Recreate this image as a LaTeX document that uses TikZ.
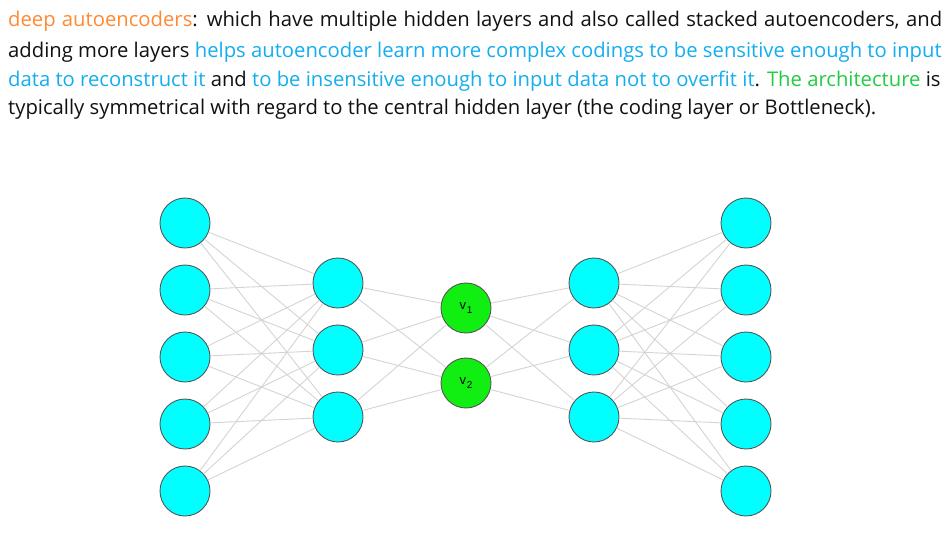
\documentclass[tikz,border=0pt]{standalone}
\usepackage{fontspec}
\setmainfont{Open Sans}
\newfontfamily\labfont{Liberation Sans}
\definecolor{txtorange}{HTML}{FF8A33}
\definecolor{txtblue}{HTML}{14AEEF}
\definecolor{txtgreen}{HTML}{22CC44}
\definecolor{txtblack}{HTML}{111111}
\definecolor{cyanfill}{HTML}{00FFFF}
\definecolor{greenfill}{HTML}{11EE11}
\definecolor{rimgray}{HTML}{555555}
\definecolor{edgegray}{HTML}{D4D4D4}
\newcommand{\vlab}[1]{v\kern0.6pt\raisebox{-4.5pt}{\fontsize{10}{10}\selectfont #1}}
\begin{document}
\begin{tikzpicture}[x=1pt,y=-1pt,
  txtline/.style={anchor=base west,inner sep=0pt,font=\fontsize{20.25}{24}\selectfont,text=txtblack},
  neuron/.style={circle,draw=rimgray,line width=0.9pt,minimum size=50pt,inner sep=0pt,fill=cyanfill},
  codeneuron/.style={neuron,fill=greenfill,font=\labfont\fontsize{13}{13}\selectfont},
  link/.style={draw=edgegray,line width=0.9pt}]
\useasboundingbox (0,0) rectangle (950,536);
\fill[white] (0,0) rectangle (950,536);
\node[txtline] (l1) at (8,26) {\makebox[934pt][s]{\textcolor{txtorange}{deep autoencoders}: which have multiple hidden layers and also called stacked autoencoders, and}};
\node[txtline] (l2) at (8,57) {adding more layers \textcolor{txtblue}{helps autoencoder learn more complex codings to be sensitive enough to input}};
\node[txtline] (l3) at (8,86) {\textcolor{txtblue}{data to reconstruct it} and \textcolor{txtblue}{to be insensitive enough to input data not to overfit it}. \textcolor{txtgreen}{The architecture} is};
\node[txtline] (l4) at (8,114) {typically symmetrical with regard to the central hidden layer (the coding layer or Bottleneck).};
% nodes
\foreach \i/\y in {1/223,2/290,3/357,4/424,5/491}{
  \node[neuron] (a\i) at (185,\y) {};
  \node[neuron] (e\i) at (746,\y) {};
}
\foreach \i/\y in {1/283,2/350,3/417}{
  \node[neuron] (b\i) at (338,\y) {};
  \node[neuron] (d\i) at (594,\y) {};
}
\node[codeneuron] (c1) at (466,308) {\vlab{1}};
\node[codeneuron] (c2) at (466,383) {\vlab{2}};
% edges
\foreach \i in {1,...,5}{\foreach \j in {1,2,3}{\path[link] (a\i) -- (b\j); \path[link] (d\j) -- (e\i);}}
\foreach \i in {1,2,3}{\foreach \j in {1,2}{\path[link] (b\i) -- (c\j); \path[link] (c\j) -- (d\i);}}
\end{tikzpicture}
\end{document}
